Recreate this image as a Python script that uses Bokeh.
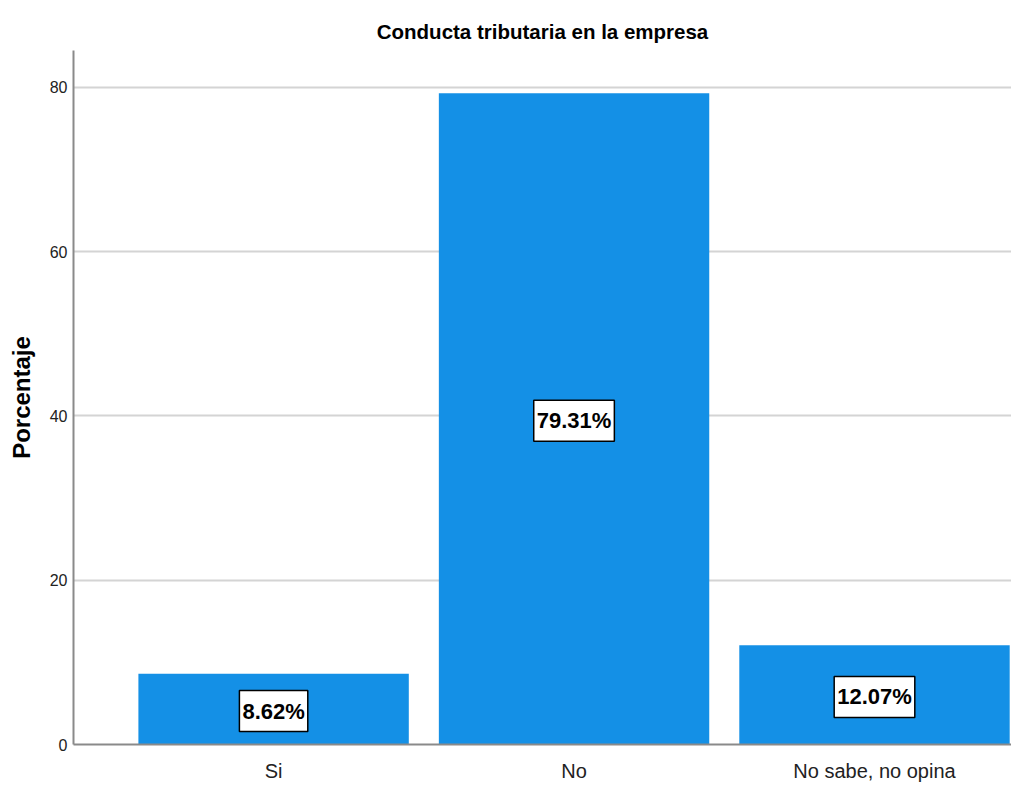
from bokeh.plotting import figure
from bokeh.models import ColumnDataSource, Label, Range1d, FixedTicker
from bokeh.embed import file_html
from bokeh.resources import INLINE

categories = ["Si", "No", "No sabe, no opina"]
percentages = [8.62, 79.31, 12.07]
y_ticks = [0, 20, 40, 60, 80]

FONT = "Liberation Sans"

xs = list(range(len(categories)))
source = ColumnDataSource(dict(x=xs, top=percentages))

p = figure(width=1011, height=787, output_backend="svg", toolbar_location=None,
           x_range=Range1d(-0.666, 2.456), y_range=Range1d(0, 84.5),
           min_border_left=73, min_border_right=0, min_border_top=50, min_border_bottom=43,
           title="Conducta tributaria en la empresa")

p.vbar(x="x", top="top", width=0.9, source=source, color="#1490E6", line_color=None)

for xi, v in zip(xs, percentages):
    p.add_layout(Label(x=xi, y=v / 2, text=f"{v:.2f}%",
                       text_align="center", text_baseline="middle",
                       text_font=FONT, text_font_size="22px", text_font_style="bold",
                       text_color="black", background_fill_color="white",
                       border_line_color="black", border_line_width=1.5, padding=(3, 8),
                       y_offset=-2))

p.title.align = "center"
p.title.text_font = FONT
p.title.text_font_size = "20.5px"
p.title.text_font_style = "bold"
p.title.text_color = "black"
p.title.standoff = 16

p.outline_line_color = None
p.xgrid.grid_line_color = None
p.ygrid.grid_line_color = "#d4d4d4"
p.ygrid.grid_line_width = 2

p.xaxis.ticker = FixedTicker(ticks=xs)
p.xaxis.major_label_overrides = {i: c for i, c in enumerate(categories)}
p.yaxis.ticker = FixedTicker(ticks=y_ticks)

for ax in (p.xaxis, p.yaxis):
    ax.axis_line_color = "#8a8a8a"
    ax.axis_line_width = 2
    ax.major_tick_line_color = None
    ax.minor_tick_line_color = None
    ax.major_tick_out = 0
    ax.major_tick_in = 0
    ax.major_label_text_font = FONT
    ax.major_label_text_color = "#222222"

p.xaxis.major_label_text_font_size = "20px"
p.xaxis.major_label_standoff = 15
p.yaxis.major_label_text_font_size = "16px"
p.yaxis.major_label_standoff = 6

p.yaxis.axis_label = "Porcentaje"
p.yaxis.axis_label_text_font = FONT
p.yaxis.axis_label_text_font_size = "24px"
p.yaxis.axis_label_text_font_style = "bold"
p.yaxis.axis_label_text_color = "black"
p.yaxis.axis_label_standoff = 12

open("out.html", "w").write(file_html(p, INLINE))
